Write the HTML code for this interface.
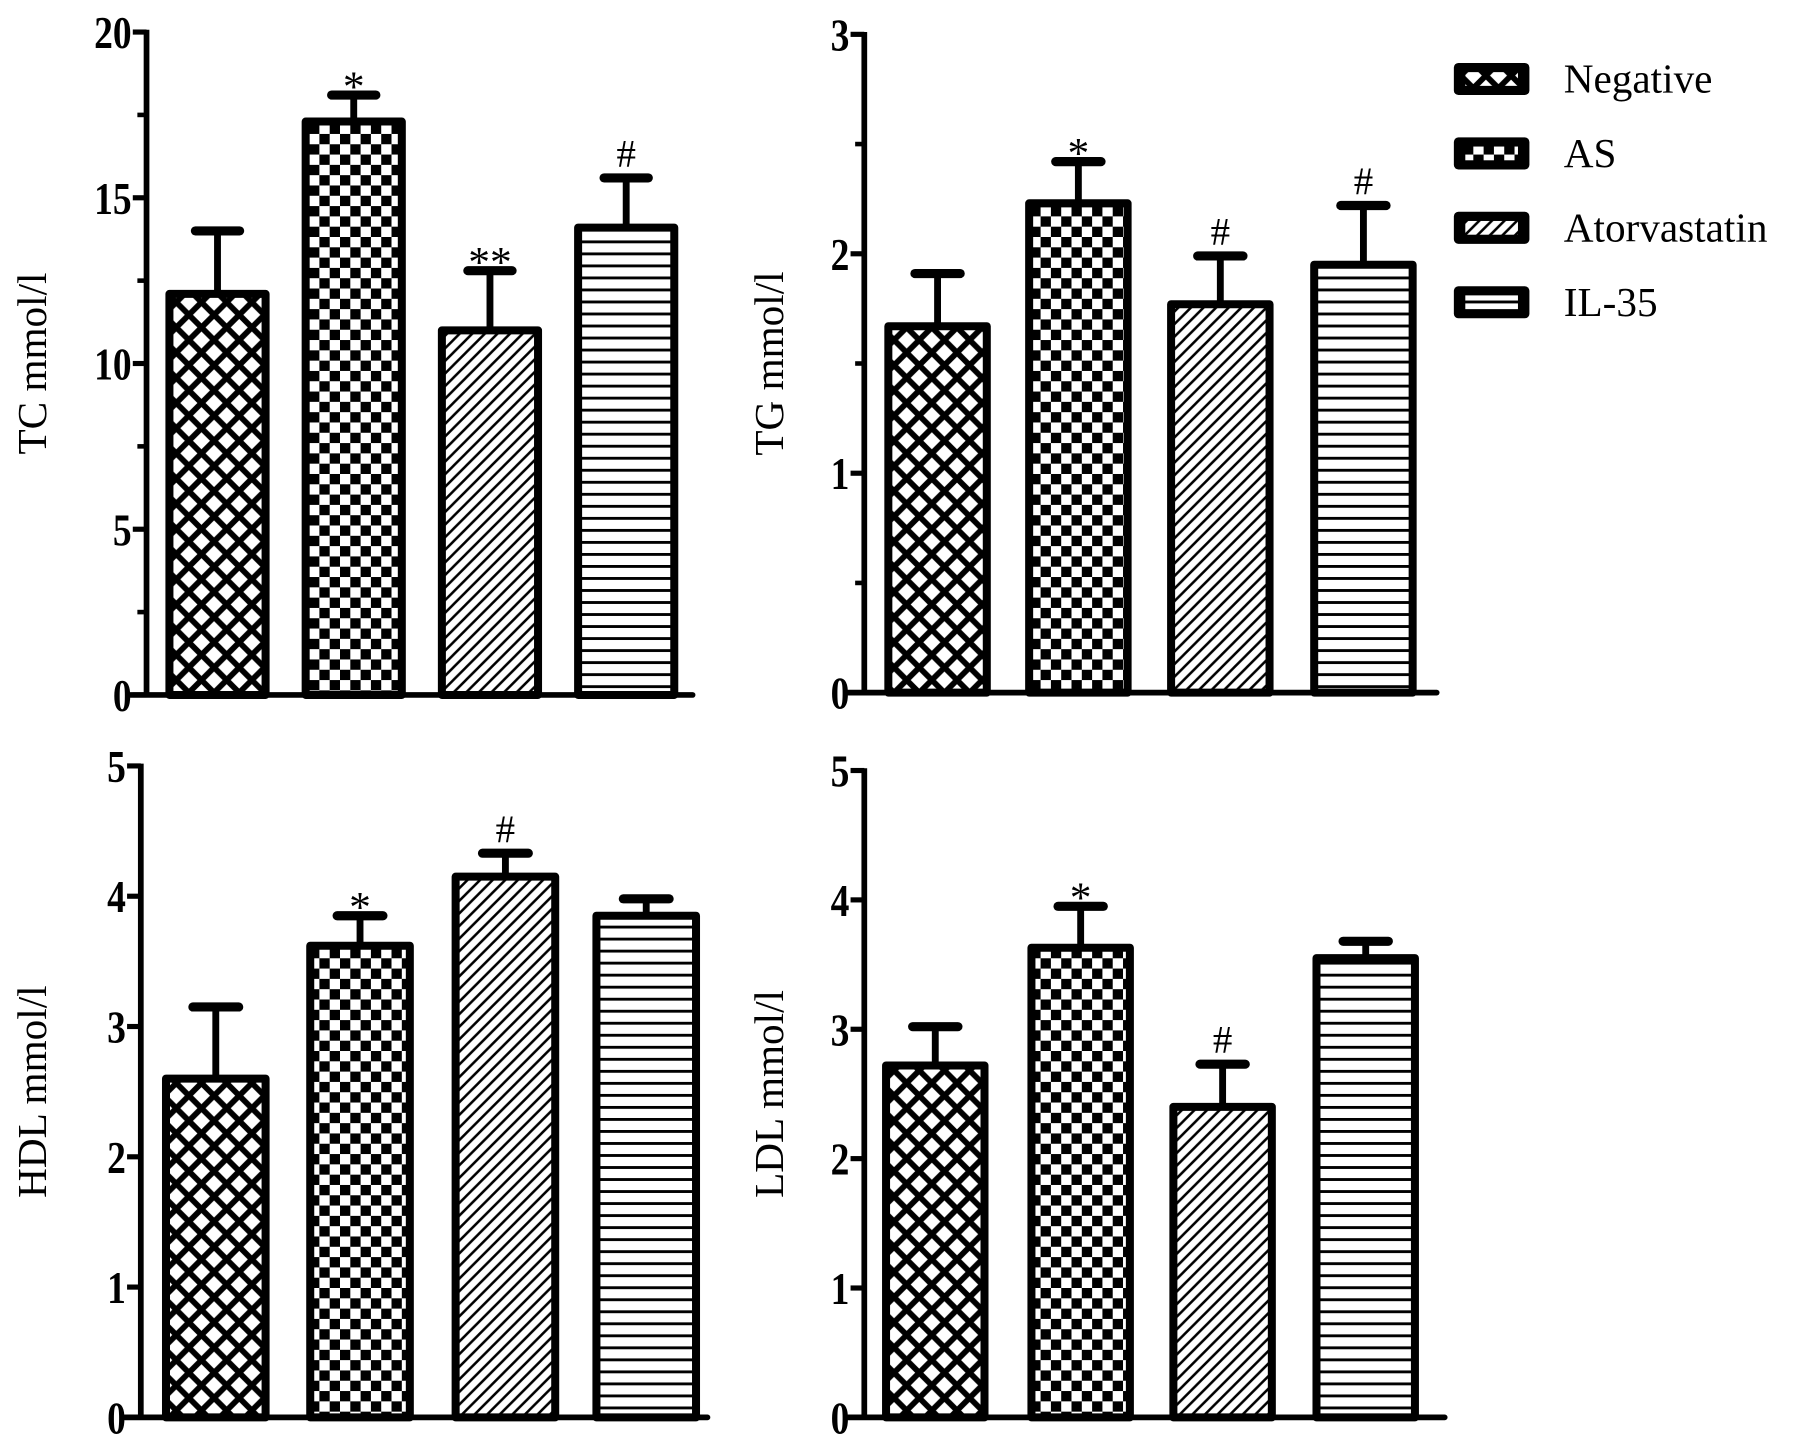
<!DOCTYPE html>
<html><head><meta charset="utf-8"><style>
html,body{margin:0;padding:0;background:#fff;}
svg{display:block;}
text{font-family:"Liberation Serif",serif;fill:#000;}
</style></head><body>
<svg id="fig" width="1795" height="1446" viewBox="0 0 1568 1263" preserveAspectRatio="none" xmlns="http://www.w3.org/2000/svg">
<defs>
<pattern id="p-neg" patternUnits="userSpaceOnUse" width="22" height="22">
<rect width="22" height="22" fill="#fff"/>
<path d="M-2,-2 L24,24 M-2,20 L2,24 M20,-2 L24,2 M24,-2 L-2,24 M-2,2 L2,-2 M20,24 L24,20" stroke="#000" stroke-width="5"/>
</pattern>
<pattern id="p-as" patternUnits="userSpaceOnUse" width="18" height="18">
<rect width="18" height="18" fill="#fff"/>
<rect x="0" y="0" width="9" height="9" fill="#000"/><rect x="9" y="9" width="9" height="9" fill="#000"/>
</pattern>
<pattern id="p-ator" patternUnits="userSpaceOnUse" width="11" height="11">
<rect width="11" height="11" fill="#fff"/>
<path d="M-1,12 L12,-1 M-3,3 L3,-3 M8,14 L14,8" stroke="#000" stroke-width="2.2"/>
</pattern>
<pattern id="p-il" patternUnits="userSpaceOnUse" width="10" height="10.5">
<rect width="10" height="10.5" fill="#fff"/>
<rect y="0" width="10" height="2.5" fill="#000"/>
</pattern>
</defs>
<g id="panels"></g>
<g id="legend"></g>
</svg>
<script>
const groups = ["Negative","AS","Atorvastatin","IL-35"];
const patterns = ["p-neg","p-as","p-ator","p-il"];
const tcValues = [12.1, 17.3, 11.0, 14.1];
const tcErr = [14.0, 18.1, 12.8, 15.6];
const tcMarks = ["", "*", "**", "#"];
const tcTicks = [0,5,10,15,20];
const tgValues = [1.67, 2.23, 1.77, 1.95];
const tgErr = [1.91, 2.42, 1.99, 2.22];
const tgMarks = ["", "*", "#", "#"];
const tgTicks = [0,1,2,3];
const hdlValues = [2.6, 3.62, 4.15, 3.85];
const hdlErr = [3.15, 3.85, 4.33, 3.98];
const hdlMarks = ["", "*", "#", ""];
const hdlTicks = [0,1,2,3,4,5];
const ldlValues = [2.72, 3.63, 2.4, 3.55];
const ldlErr = [3.02, 3.95, 2.73, 3.68];
const ldlMarks = ["", "*", "#", ""];
const ldlTicks = [0,1,2,3,4,5];

const NS="http://www.w3.org/2000/svg";
function mk(tag, attrs, parent){const e=document.createElementNS(NS,tag);for(const k in attrs)e.setAttribute(k,attrs[k]);parent.appendChild(e);return e;}
const root=document.getElementById('panels');

function panel(cfg){
  const g=mk('g',{},root);
  
  
  const max=cfg.ticks[cfg.ticks.length-1];
  const y=v=>cfg.y0-(cfg.y0-cfg.yTop)*v/max;
  cfg.values.forEach((v,i)=>{
    const x=cfg.barX[i], w=cfg.barW;
    const el=mk('line',{x1:x+w/2,x2:x+w/2,y1:y(v),y2:y(cfg.err[i]),stroke:'#000','stroke-width':6},g);
    
    
    const cap=mk('line',{x1:x+w/2-w*0.23,x2:x+w/2+w*0.23,y1:y(cfg.err[i]),y2:y(cfg.err[i]),stroke:'#000','stroke-width':8,'stroke-linecap':'round'},g);
    
    
    const r=mk('rect',{x:x,y:y(v),width:w,height:cfg.y0-y(v),fill:'url(#'+patterns[i]+')',stroke:'#000','stroke-width':7,'stroke-linejoin':'round'},g);
    
    
    if(cfg.marks[i]){
      const t=mk('text',{x:x+w/2,y:y(cfg.err[i])+(cfg.marks[i]==='#'?-10:5),'text-anchor':'middle','font-size':cfg.marks[i]==='#'?34:38},g);
      t.textContent=cfg.marks[i];
      
      
    }
  });
  const ya=mk('line',{x1:cfg.axisX,x2:cfg.axisX,y1:cfg.yTop-2,y2:cfg.y0+2,stroke:'#000','stroke-width':5},g);
  
  
  const xa=mk('line',{x1:cfg.axisX-14,x2:cfg.xEnd,y1:cfg.y0,y2:cfg.y0,stroke:'#000','stroke-width':5,'stroke-linecap':'round'},g);
  
  
  cfg.ticks.forEach(t=>{
    mk('line',{x1:cfg.axisX-12,x2:cfg.axisX,y1:y(t),y2:y(t),stroke:'#000','stroke-width':4.5},g);
    const lb=mk('text',{x:cfg.axisX-13,y:y(t)+14,'text-anchor':'end','font-size':40,'font-weight':'bold',transform:'translate('+(cfg.axisX-13)+' 0) scale(0.82 1) translate('+(-(cfg.axisX-13))+' 0)'},g);
    lb.textContent=t;
    
    
  });
  if(cfg.minor){
    for(let k=0;k<cfg.ticks.length-1;k++){
      const m=(cfg.ticks[k]+cfg.ticks[k+1])/2;
      mk('line',{x1:cfg.axisX-8,x2:cfg.axisX,y1:y(m),y2:y(m),stroke:'#000','stroke-width':4},g);
    }
  }
  const cy=(cfg.y0+cfg.yTop)/2;
  const tt=mk('text',{x:cfg.titleX,y:cy,'text-anchor':'middle','font-size':36,transform:'rotate(-90 '+cfg.titleX+' '+cy+')'},g);
  tt.textContent=cfg.title;
  
  
}

panel({name:'tc',values:tcValues,err:tcErr,marks:tcMarks,ticks:tcTicks,minor:true,axisX:128,yTop:28,y0:607,xEnd:605,barX:[148,267,386,505],barW:84,title:'TC mmol/l',titleX:40});
panel({name:'tg',values:tgValues,err:tgErr,marks:tgMarks,ticks:tgTicks,minor:true,axisX:755,yTop:30,y0:605,xEnd:1255,barX:[776,899,1023,1148],barW:86,title:'TG mmol/l',titleX:684});
panel({name:'hdl',values:hdlValues,err:hdlErr,marks:hdlMarks,ticks:hdlTicks,minor:false,axisX:123,yTop:669,y0:1238,xEnd:618,barX:[145,271,398,521],barW:87,title:'HDL mmol/l',titleX:40});
panel({name:'ldl',values:ldlValues,err:ldlErr,marks:ldlMarks,ticks:ldlTicks,minor:false,axisX:755,yTop:673,y0:1238,xEnd:1262,barX:[774,901,1025,1150],barW:86,title:'LDL mmol/l',titleX:684});

const leg=document.getElementById('legend');
groups.forEach((name,i)=>{
  const cy=69+i*65;
  const r=mk('rect',{x:1270,y:cy-14,width:66,height:28,rx:4,fill:'#000'},leg);
  
  
  mk('rect',{x:1280,y:cy-6,width:46,height:12,fill:'url(#'+patterns[i]+')'},leg);
  const t=mk('text',{x:1366,y:cy+12,'font-size':36},leg);
  t.textContent=name;
  
  
});
</script>
</body></html>
